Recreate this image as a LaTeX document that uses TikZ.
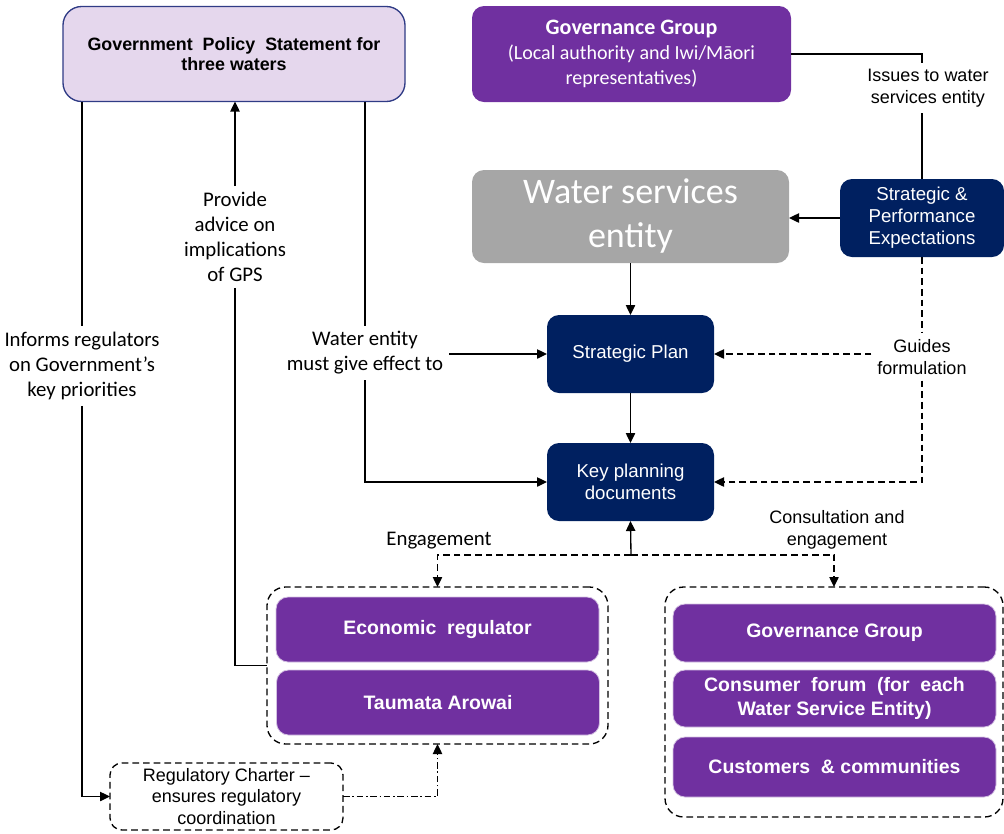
\documentclass[tikz,border=0pt]{standalone}
\usepackage{fontspec}
\setmainfont{Liberation Sans}
\newfontfamily\carlito{Carlito}
\usetikzlibrary{arrows.meta}

\definecolor{govpurple}{HTML}{7030A0}
\definecolor{navyblue}{HTML}{002060}
\definecolor{entitygrey}{HTML}{A6A6A6}
\definecolor{gpslavender}{HTML}{E5D7ED}
\definecolor{gpsborder}{HTML}{2F3B85}

\tikzset{
  box/.style={rounded corners=9pt, align=center, inner sep=2pt, outer sep=0pt},
  navybox/.style={box, fill=navyblue, text=white, minimum width=125.25pt, minimum height=58.5pt,
    font=\fontsize{14}{16.5}\selectfont},
  purplebox/.style={box, fill=govpurple, draw=govpurple!30, line width=0.6pt, text=white,
    minimum width=242.25pt, font=\bfseries\fontsize{14.6}{18}\selectfont},
  dashline/.style={dash pattern=on 5pt off 3pt},
  dashdotline/.style={dash pattern=on 5pt off 2pt on 1.2pt off 2pt},
  groupbox/.style={draw, dashline, rounded corners=14pt, minimum width=#1, outer sep=0pt},
  carlitolbl/.style={align=center, inner sep=4pt, font=\carlito\fontsize{15.6}{18.75}\selectfont},
  ariallbl/.style={align=center, inner sep=4pt, font=\fontsize{13.5}{16.5}\selectfont},
}

\begin{document}
\begin{tikzpicture}[x=0.75pt, y=-0.75pt, >={Triangle[length=7.5pt,width=7pt]}, line width=1pt]
\useasboundingbox (0,0) rectangle (1004,833);

% boxes
\node (gps) at (234,54) [box, fill=gpslavender, draw=gpsborder, line width=1pt, rounded corners=14pt,
  minimum width=256.5pt, minimum height=71.25pt, font=\bfseries\fontsize{13.4}{14.5}\selectfont]
  {Government\ \ Policy\ \ Statement for\\three waters};
\node (gov) at (631.5,54) [box, fill=govpurple, text=white, minimum width=239.25pt, minimum height=72pt,
  font=\carlito\fontsize{15}{18.75}\selectfont]
  {{\bfseries\fontsize{16.5}{18}\selectfont Governance Group}\\(Local authority and Iwi/Māori\\representatives)};
\node (wse) at (630.5,216.5) [box, fill=entitygrey, text=white, minimum width=237.75pt, minimum height=69.75pt,
  font=\carlito\fontsize{27}{33}\selectfont] {Water services\\entity};
\node (spe) at (922,218) [navybox, minimum width=123pt] {Strategic \&\\Performance\\Expectations};
\node (sp) at (630.5,354) [navybox] {Strategic Plan};
\node (kpd) at (630.5,482) [navybox] {Key planning\\documents};

\node (rg) at (437.5,665.5) [groupbox=255.75pt, minimum height=117.75pt] {};
\node (econ) at (437.5,629.5) [purplebox, minimum height=48.75pt] {Economic\ \ regulator};
\node (taumata) at (438,702.5) [purplebox, minimum height=48.75pt] {Taumata Arowai};

\node (cg) at (834,702) [groupbox=253.5pt, minimum height=172.5pt] {};
\node (ggov) at (834.5,633) [purplebox, minimum height=43.5pt] {Governance Group};
\node (forum) at (834.5,698.5) [purplebox, minimum height=42.75pt] {Consumer\ \ forum\ \ (for\ \ each\\Water Service Entity)};
\node (cust) at (834.5,767) [purplebox, minimum height=45pt] {Customers\ \ \& communities};

\node (charter) at (226.5,796.5) [box, draw, dashline, minimum width=174.75pt, minimum height=50.25pt,
  font=\fontsize{13.5}{16}\selectfont] {Regulatory Charter --\\ensures regulatory\\coordination};

% labels
\node (issues) at (928,88) [ariallbl] {Issues to water\\services entity};
\node (guides) at (922,357) [ariallbl] {Guides\\formulation};
\node (consult) at (837,530) [ariallbl] {Consultation and\\engagement};
\node (engage) at (439,541) [carlitolbl] {Engagement};
\node (informs) at (82,366) [carlitolbl] {Informs regulators\\on Government’s\\key priorities};
\node (provide) at (235,237) [carlitolbl] {Provide\\advice on\\implications\\of GPS};
\node (mustgive) at (365,353) [carlitolbl] {Water entity\\must give effect to};

\coordinate (split) at (631,555);

% connectors
\draw (gov.east) -| (spe.north |- issues.north);
\draw (spe.north |- issues.south) -- (spe.north);
\draw[->] (spe.west) -- (spe.west -| wse.east);
\draw[->] (wse.south) -- (sp.north);
\draw[->] (sp) -- (kpd);
\draw[dashline] (spe.south) -- (spe.south |- guides.north);
\draw[dashline,->] (guides.west |- sp.east) -- (sp.east);
\draw[dashline,->] (spe.south |- guides.south) |- (kpd.east);

\draw (gps.south -| informs) -- (informs.north);
\draw[->] (informs.south) |- (charter.west);
\draw (gps.south -| mustgive) -- (mustgive.north);
\draw[->] (mustgive.east |- sp.west) -- (sp.west);
\draw[->] (mustgive.south) |- (kpd.west);
\draw[->] (provide.north) -- (provide.north |- gps.south);
\draw (provide.south) |- (rg.west);

\draw[->] (split) -- (kpd.south);
\draw[dashline,->] (split) -| (rg.north);
\draw[dashline,->] (split) -| (cg.north);
\draw[dashdotline,->] (charter.east) -| (rg.south);

\end{tikzpicture}
\end{document}
